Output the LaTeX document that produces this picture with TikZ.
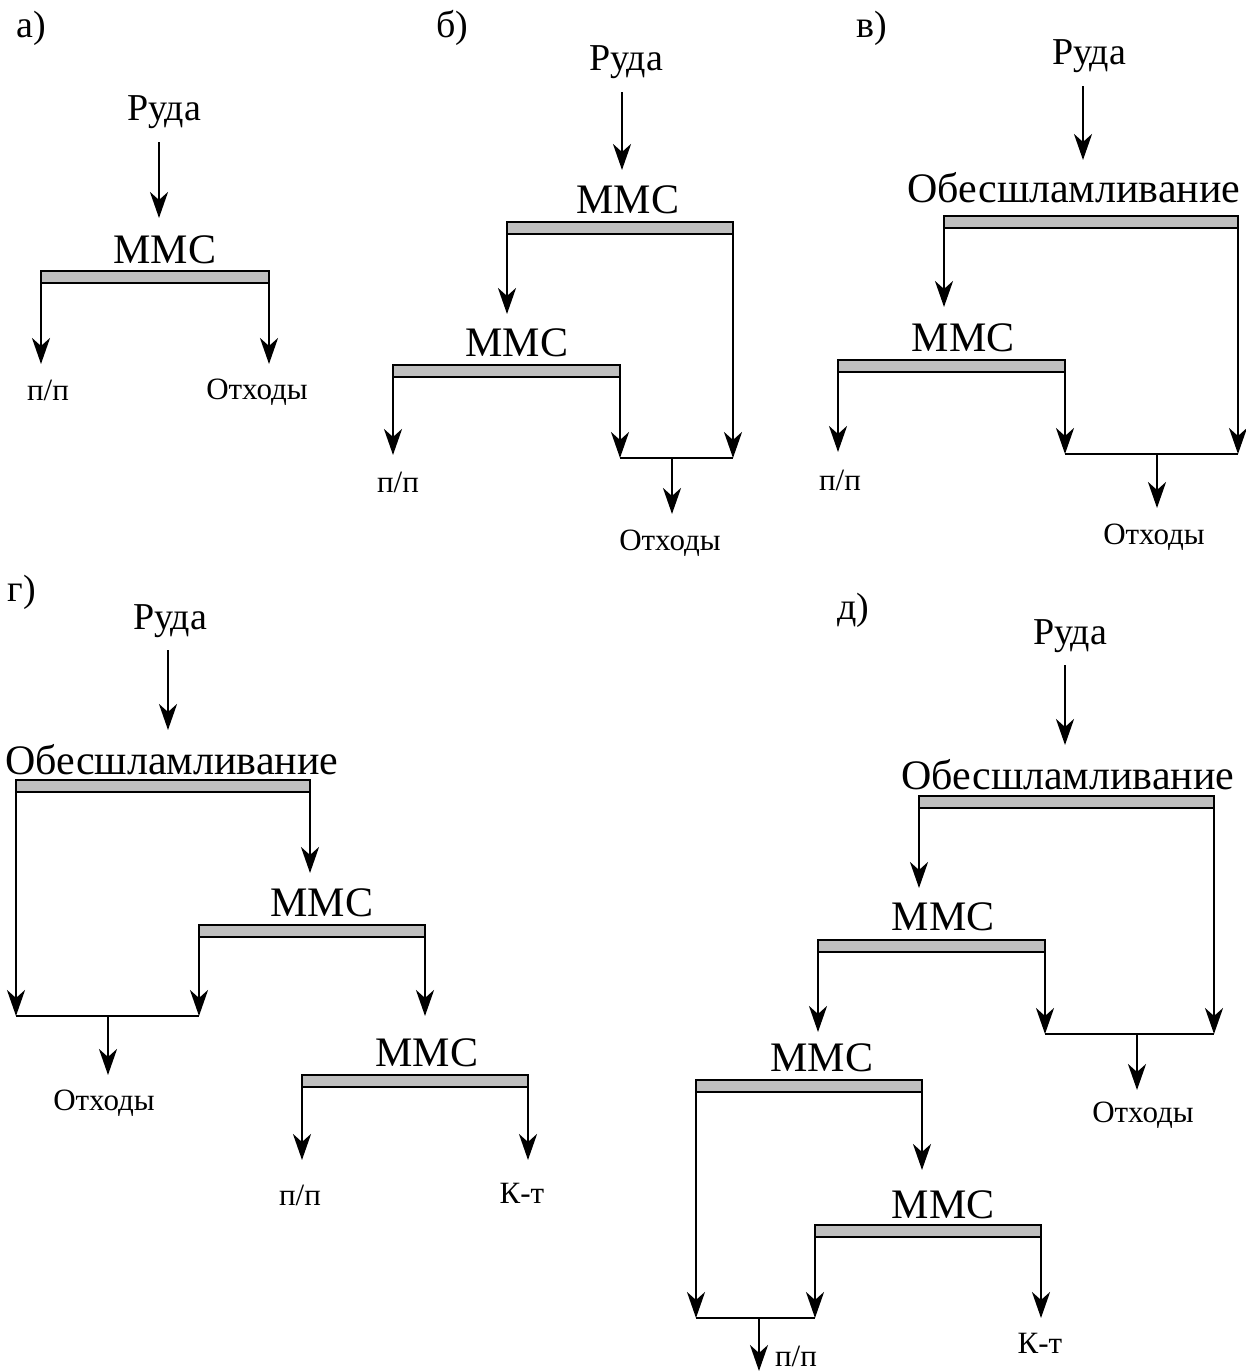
\documentclass[tikz,border=0pt]{standalone}
\usepackage{fontspec}
\setmainfont{Liberation Serif}
\usetikzlibrary{arrows.meta,calc}
\begin{document}
\begin{tikzpicture}[x=1pt,y=-1pt,
  flow/.style={line width=2.8pt,-{Stealth[length=26pt,width=18pt,inset=8pt]}},
  merge/.style={line width=2pt},
  bar/.style={draw,line width=2.4pt,fill=black!25,rectangle,inner sep=0pt,outer sep=0pt,minimum height=12pt},
  big/.style={inner sep=0pt,font=\fontsize{42}{46}\selectfont},
  feed/.style={inner sep=0pt,text height=26pt,text depth=8pt,font=\fontsize{38}{42}\selectfont},
  small/.style={inner sep=0pt,font=\fontsize{31}{35}\selectfont},
  tag/.style={inner sep=0pt,font=\fontsize{38}{42}\selectfont}]
\useasboundingbox (0,0) rectangle (1245,1372);

% ---------- а) ----------
\node[tag] (a-tag) at (31,28) {а)};
\node[feed] (a-ore) at (164,112) {Руда};
\node[big] (a-mms) at (165,250) {ММС};
\node[bar,minimum width=228pt] (a-bar) at (155,277) {};
\coordinate (a-in) at (159,218);
\draw[flow,shorten <=13pt] (a-ore.south -| a-in) -- (a-in);
\coordinate (a-o1) at (41,364);
\coordinate (a-o2) at (269,364);
\draw[flow] (a-bar.south west) -- (a-o1);
\draw[flow] (a-bar.south east) -- (a-o2);
\node[small] (a-pp) at (48,390) {п/п};
\node[small] (a-waste) at (257,392) {Отходы};

% ---------- б) ----------
\node[tag] (b-tag) at (452,28) {б)};
\node[feed] (b-ore) at (626,62) {Руда};
\node[big] (b-mms1) at (628,200) {ММС};
\node[bar,minimum width=226pt] (b-bar1) at (620,228) {};
\coordinate (b-in1) at (622,170);
\draw[flow,shorten <=13pt] (b-ore.south -| b-in1) -- (b-in1);
\node[big] (b-mms2) at (517,343) {ММС};
\node[bar,minimum width=227pt] (b-bar2) at (506.5,371) {};
\coordinate (b-in2) at (507,314);
\draw[flow] (b-bar1.south west) -- (b-in2);
\coordinate (b-m1) at (733,458);
\draw[flow] (b-bar1.south east) -- (b-m1);
\coordinate (b-o1) at (393,455);
\draw[flow] (b-bar2.south west) -- (b-o1);
\coordinate (b-m2) at (620,458);
\draw[flow] (b-bar2.south east) -- (b-m2);
\draw[merge] (b-m2) -- (b-m1);
\coordinate (b-j) at (672,458);
\coordinate (b-jt) at (672,514);
\draw[flow] (b-j) -- (b-jt);
\node[small] (b-pp) at (398,482) {п/п};
\node[small] (b-waste) at (670,543) {Отходы};

% ---------- в) ----------
\node[tag] (c-tag) at (872,28) {в)};
\node[feed] (c-ore) at (1089,56) {Руда};
\node[big] (c-desl) at (1074,188) {Обесшламливание};
\node[bar,minimum width=294pt] (c-bar1) at (1091,222) {};
\coordinate (c-in1) at (1083,160);
\draw[flow,shorten <=13pt] (c-ore.south -| c-in1) -- (c-in1);
\node[big] (c-mms) at (963,338) {ММС};
\node[bar,minimum width=227pt] (c-bar2) at (951.5,366) {};
\coordinate (c-in2) at (944,307);
\draw[flow] (c-bar1.south west) -- (c-in2);
\coordinate (c-m1) at (1238,454);
\draw[flow] (c-bar1.south east) -- (c-m1);
\coordinate (c-o1) at (838,452);
\draw[flow] (c-bar2.south west) -- (c-o1);
\coordinate (c-m2) at (1065,454);
\draw[flow] (c-bar2.south east) -- (c-m2);
\draw[merge] (c-m2) -- (c-m1);
\coordinate (c-j) at (1157,454);
\coordinate (c-jt) at (1157,508);
\draw[flow] (c-j) -- (c-jt);
\node[small] (c-pp) at (840,480) {п/п};
\node[small] (c-waste) at (1154,537) {Отходы};

% ---------- г) ----------
\node[tag] (d-tag) at (22,592) {г)};
\node[feed] (d-ore) at (170,620) {Руда};
\node[big] (d-desl) at (172,760) {Обесшламливание};
\node[bar,minimum width=294pt] (d-bar1) at (163,786) {};
\coordinate (d-in1) at (168,730);
\draw[flow,shorten <=13pt] (d-ore.south -| d-in1) -- (d-in1);
\node[big] (d-mms1) at (322,903) {ММС};
\node[bar,minimum width=226pt] (d-bar2) at (312,931) {};
\coordinate (d-m1) at (16,1016);
\draw[flow] (d-bar1.south west) -- (d-m1);
\coordinate (d-in2) at (310,873);
\draw[flow] (d-bar1.south east) -- (d-in2);
\coordinate (d-m2) at (199,1016);
\draw[flow] (d-bar2.south west) -- (d-m2);
\draw[merge] (d-m1) -- (d-m2);
\coordinate (d-j) at (108,1016);
\coordinate (d-jt) at (108,1075);
\draw[flow] (d-j) -- (d-jt);
\node[small] (d-waste) at (104,1103) {Отходы};
\node[big] (d-mms2) at (427,1053) {ММС};
\node[bar,minimum width=226pt] (d-bar3) at (415,1081) {};
\coordinate (d-in3) at (425,1016);
\draw[flow] (d-bar2.south east) -- (d-in3);
\coordinate (d-o1) at (302,1160);
\draw[flow] (d-bar3.south west) -- (d-o1);
\coordinate (d-o2) at (528,1160);
\draw[flow] (d-bar3.south east) -- (d-o2);
\node[small] (d-pp) at (300,1195) {п/п};
\node[small] (d-conc) at (522,1193) {К-т};

% ---------- д) ----------
\node[tag] (e-tag) at (853,610) {д)};
\node[feed] (e-ore) at (1070,635) {Руда};
\node[big] (e-desl) at (1068,775) {Обесшламливание};
\node[bar,minimum width=295pt] (e-bar1) at (1066.5,802) {};
\coordinate (e-in1) at (1065,745);
\draw[flow,shorten <=13pt] (e-ore.south -| e-in1) -- (e-in1);
\node[big] (e-mms1) at (943,917) {ММС};
\node[bar,minimum width=227pt] (e-bar2) at (931.5,946) {};
\coordinate (e-in2) at (919,888);
\draw[flow] (e-bar1.south west) -- (e-in2);
\coordinate (e-m1) at (1214,1034);
\draw[flow] (e-bar1.south east) -- (e-m1);
\coordinate (e-m2) at (1045,1034);
\draw[flow] (e-bar2.south east) -- (e-m2);
\draw[merge] (e-m2) -- (e-m1);
\coordinate (e-j) at (1137,1034);
\coordinate (e-jt) at (1137,1090);
\draw[flow] (e-j) -- (e-jt);
\node[small] (e-waste) at (1143,1115) {Отходы};
\node[big] (e-mms2) at (822,1058) {ММС};
\node[bar,minimum width=226pt] (e-bar3) at (809,1086) {};
\coordinate (e-in3) at (818,1032);
\draw[flow] (e-bar2.south west) -- (e-in3);
\node[big] (e-mms3) at (943,1205) {ММС};
\node[bar,minimum width=226pt] (e-bar4) at (928,1231) {};
\coordinate (e-in4) at (922,1170);
\draw[flow] (e-bar3.south east) -- (e-in4);
\coordinate (e-n1) at (696,1318);
\draw[flow] (e-bar3.south west) -- (e-n1);
\coordinate (e-n2) at (815,1318);
\draw[flow] (e-bar4.south west) -- (e-n2);
\draw[merge] (e-n1) -- (e-n2);
\coordinate (e-o2) at (1041,1318);
\draw[flow] (e-bar4.south east) -- (e-o2);
\coordinate (e-k) at (759,1318);
\coordinate (e-kt) at (759,1371);
\draw[flow] (e-k) -- (e-kt);
\node[small] (e-pp) at (796,1356) {п/п};
\node[small] (e-conc) at (1040,1343) {К-т};
\end{tikzpicture}
\end{document}
